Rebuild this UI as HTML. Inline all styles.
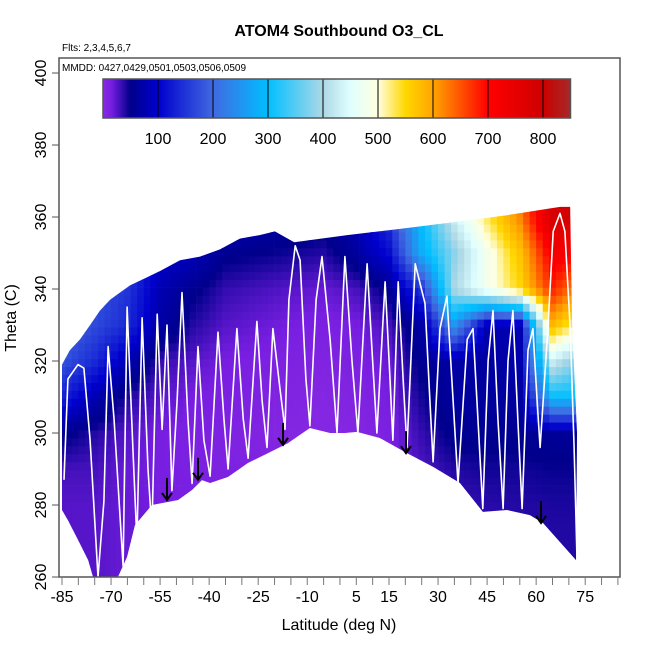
<!DOCTYPE html>
<html><head><meta charset="utf-8"><style>
body{margin:0;background:#fff}
svg text{font-family:"Liberation Sans",sans-serif}
</style></head><body>
<svg id="c" width="650" height="650" xmlns="http://www.w3.org/2000/svg">
<text x="339" y="36" text-anchor="middle" font-size="16" font-weight="bold">ATOM4 Southbound O3_CL</text>
<text x="62" y="51" font-size="10">Flts: 2,3,4,5,6,7</text>
<text x="339" y="630" text-anchor="middle" font-size="16">Latitude (deg N)</text>
<text transform="translate(16,318) rotate(-90)" text-anchor="middle" font-size="16">Theta (C)</text>
<g id="field"></g><g id="flight"></g><g id="arrows"></g><g id="axes"></g><g id="cbar"></g>
</svg>
<script>
const lats=[-85,-75,-65,-55,-45,-35,-25,-15,-5,5,15,25,35,45,55,65,75];
const thetas=[270,280,290,300,310,320,330,340,350,360,370];
const o3=[
[25,25,20,20,15,15,15,12,10,10,15,25,30,35,38,40,40],
[25,25,20,15,15,12,12,10,10,10,15,25,32,38,40,42,42],
[30,30,20,15,12,10,10,8,8,8,12,28,40,45,45,48,48],
[55,40,25,15,12,10,8,5,5,5,12,35,55,55,55,60,60],
[130,80,40,25,15,12,10,8,5,8,15,45,65,65,65,300,300],
[180,140,80,35,25,15,12,10,8,12,20,55,70,65,75,430,350],
[200,170,140,70,40,25,20,15,12,15,30,70,250,80,80,580,500],
[200,180,150,80,55,35,30,25,20,30,55,150,400,480,550,680,600],
[200,180,150,100,85,55,50,45,40,65,110,280,380,480,570,720,700],
[200,180,150,120,100,90,80,70,60,80,150,300,430,530,620,780,800],
[200,180,150,120,100,90,80,70,60,80,150,300,430,530,620,800,800]];
const topLat=[-85,-82.6,-79.5,-76.4,-73.4,-70.3,-67.3,-64.2,-59.6,-55,-48.9,-42.8,-36.7,-30.6,-24.4,-19.9,-14,2.5,18.4,35.2,51.1,67.3,70.4,71,72.5];
const topTh=[319,323,326,330,334,337,339,341,343,345,348,349,351,354,355,356,353,355,356.7,358.6,360.5,362.8,362.8,330,300];
const botLat=[72.2,62.1,58.1,51.1,43.7,36.7,28.5,20.5,12.2,5.2,1.5,-3,-9.2,-15.9,-22,-28.1,-34.2,-39.7,-42.2,-45.2,-49.5,-57.5,-62.7,-65.1,-67.9,-75.5,-77,-80.1,-83.2,-85];
const botTh=[264.7,275,277.2,278.6,278.1,286.1,290.6,294.4,298.6,300.3,300,300,301.4,297.2,294.4,291.7,287.8,286.1,286.9,284.2,281.4,280,274.4,265.6,260,260,264.7,270.3,275.8,278.6];
const flightLat=[-84.4,-83.2,-80.1,-78.3,-76.4,-74,-72.2,-70.9,-69.1,-66.3,-65.1,-63.3,-62.1,-60.5,-58.7,-57.5,-55.9,-54.4,-52.9,-51.4,-49.8,-48.3,-46.5,-45.2,-43.4,-41.6,-39.7,-37.3,-35.5,-34.2,-31.5,-29.6,-28.1,-25.4,-23.8,-22.3,-20.5,-18.3,-16.8,-15.6,-13.7,-12.2,-10.4,-9.2,-7.3,-5.5,-3,-0.9,1.5,3.7,5.5,8.3,9.8,11.3,13.8,15.3,16.2,17.8,19.3,20.5,23,26,27.5,28.5,30.6,32.7,34.6,36.1,38.9,40.7,42.2,43.7,45.3,46.8,48.3,49.9,51.4,52.9,54.4,55.7,57.5,59,60.3,61.2,63.6,65.2,67.3,68.8,70.4,71.6,72.5,72.8];
const flightTh=[287,315,319,318,298,260,281,324,304,263,335,295,270,332,290,273,333,301,330,284,309,339,304,286,324,298,288,328,304,290,329,304,293,331,309,296,329,312,301,337,352,348,315,302,337,349,326,300,349,320,300,347,323,300,342,315,298,342,315,296,347,336,309,292,329,338,309,286,326,329,304,279,320,334,304,279,320,334,304,279,323,329,309,296,329,356,361,356,329,296,265,294];
const arrowLat=[-52.9,-43.4,-17.4,20.2,61.5];
const arrowTh=[281.4,287,296.7,294.4,275];
const xTicks=[-85,-70,-55,-40,-25,-10,5,15,30,45,60,75];
const yTicks=[260,280,300,320,340,360,380,400];
const cbTicks=[100,200,300,400,500,600,700,800];

const NS='http://www.w3.org/2000/svg';
const X=l=>62+(l+85)*3.27, Y=t=>577-(t-260)*3.6;
const stops=[[0,[138,43,226]],[15,[120,30,225]],[50,[0,0,139]],[100,[0,0,205]],[200,[65,105,225]],[300,[0,191,255]],[400,[173,216,230]],[450,[224,255,255]],[500,[255,255,224]],[550,[255,215,0]],[600,[255,165,0]],[700,[255,0,0]],[800,[205,0,0]],[850,[165,42,42]]];
function col(v){v=Math.max(0,Math.min(850,v));for(let i=1;i<stops.length;i++){if(v<=stops[i][0]){const a=stops[i-1],b=stops[i],f=(v-a[0])/(b[0]-a[0]);return 'rgb('+a[1].map((c,k)=>Math.round(c+(b[1][k]-c)*f)).join(',')+')';}}}
function mk(tag,at,parent){const e=document.createElementNS(NS,tag);for(const k in at)e.setAttribute(k,at[k]);parent.appendChild(e);return e;}
function val(l,t){let i=0;while(i<lats.length-2&&l>lats[i+1])i++;let j=0;while(j<thetas.length-2&&t>thetas[j+1])j++;
 let fx=Math.max(0,Math.min(1,(l-lats[i])/(lats[i+1]-lats[i]))),fy=Math.max(0,Math.min(1,(t-thetas[j])/(thetas[j+1]-thetas[j])));
 const a=o3[j][i],b=o3[j][i+1],c=o3[j+1][i],d=o3[j+1][i+1];return (a*(1-fx)+b*fx)*(1-fy)+(c*(1-fx)+d*fx)*fy;}
const svg=document.getElementById('c');
const defs=mk('defs',{},svg);const cp=mk('clipPath',{id:'cp'},defs);
let pts=topLat.map((l,i)=>X(l)+','+Y(topTh[i])).concat(botLat.map((l,i)=>X(l)+','+Y(botTh[i]))).join(' ');
mk('polygon',{points:pts},cp);
const field=document.getElementById('field');field.setAttribute('clip-path','url(#cp)');


for(let l=-86;l<74;l+=2){for(let t=259;t<368;t+=2.2){
 mk('rect',{x:X(l).toFixed(1),y:Y(t+2.2).toFixed(1),width:(2*3.27+0.4).toFixed(1),height:(2.2*3.6+0.4).toFixed(1),fill:col(val(l+1,t+1.1))},field);}}
const fl=document.getElementById('flight');
const pl=mk('polyline',{points:flightLat.map((l,i)=>X(l).toFixed(1)+','+Y(flightTh[i]).toFixed(1)).join(' '),fill:'none',stroke:'#fff','stroke-width':1.6,'stroke-linejoin':'round'},fl);


const ar=document.getElementById('arrows');
arrowLat.forEach((l,i)=>{const x=X(l),y=Y(arrowTh[i]);const g=mk('g',{stroke:'#000','stroke-width':2,fill:'none'},ar);
 
 
 mk('line',{x1:x,y1:y-22,x2:x,y2:y},g);mk('polyline',{points:(x-5)+','+(y-7)+' '+x+','+y+' '+(x+5)+','+(y-7)},g);});
const ax=document.getElementById('axes');
const box=mk('rect',{x:59,y:58,width:561,height:519,fill:'none',stroke:'#555','stroke-width':1.5},ax);


for(let l=-85;l<=85;l+=5){mk('line',{x1:X(l),y1:577,x2:X(l),y2:585,stroke:'#777','stroke-width':1},ax);}
xTicks.forEach(l=>{const t=mk('text',{x:X(l),y:602,'text-anchor':'middle','font-size':16},ax);t.textContent=l;
 
 });
yTicks.forEach(v=>{mk('line',{x1:52,y1:Y(v),x2:59,y2:Y(v),stroke:'#555'},ax);const t=mk('text',{transform:'translate(46,'+Y(v)+') rotate(-90)','text-anchor':'middle','font-size':16},ax);t.textContent=v;
 
 });
const mm=mk('text',{x:62,y:71,'font-size':10},ax);mm.textContent='MMDD: 0427,0429,0501,0503,0506,0509';


const cb=document.getElementById('cbar');


const C=v=>103+v*0.55;
for(let v=0;v<850;v+=2){mk('rect',{x:C(v).toFixed(2),y:79,width:1.6,height:39,fill:col(v+1)},cb);}
cbTicks.forEach(v=>{mk('line',{x1:C(v),y1:79,x2:C(v),y2:118,stroke:'#000','stroke-width':1},cb);const t=mk('text',{x:C(v),y:144,'text-anchor':'middle','font-size':16},cb);t.textContent=v;
 
 });
mk('rect',{x:C(0),y:79,width:C(850)-C(0),height:39,fill:'none',stroke:'#555','stroke-width':1.5},cb);
</script>
</body></html>
